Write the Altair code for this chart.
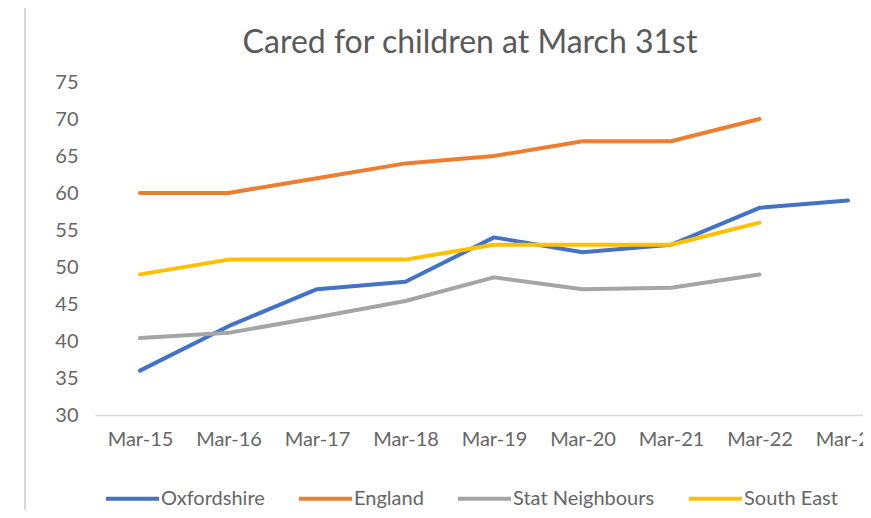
import altair as alt
import pandas as pd

months = ["Mar-15", "Mar-16", "Mar-17", "Mar-18", "Mar-19", "Mar-20", "Mar-21", "Mar-22", "Mar-23"]
series_names = ["Oxfordshire", "England", "Stat Neighbours", "South East"]
oxfordshire = [36, 42, 47, 48, 54, 52, 53, 58, 59]
england = [60, 60, 62, 64, 65, 67, 67, 70, None]
stat_neighbours = [40.4, 41.1, 43.2, 45.4, 48.6, 47.0, 47.2, 49.0, None]
south_east = [49, 51, 51, 51, 53, 53, 53, 56, None]
colors = ["#4472C4", "#ED7D31", "#A5A5A5", "#FFC000"]
y_ticks = [30, 35, 40, 45, 50, 55, 60, 65, 70, 75]

rows = []
for name, vals in zip(series_names, [oxfordshire, england, stat_neighbours, south_east]):
    for i, (m, v) in enumerate(zip(months, vals)):
        if v is not None:
            rows.append({"Month": m, "Series": name, "Value": v, "idx": i})
df = pd.DataFrame(rows)

FONT = "Lato"
W, H = 768, 333

lines = alt.Chart(df).mark_line(strokeWidth=4, strokeCap="round", strokeJoin="round").encode(
    x=alt.X("Month:N", sort=months, title=None,
            scale=alt.Scale(type="point", domain=months, padding=0.339, align=0.75),
            axis=alt.Axis(labelAngle=0, domain=False, ticks=False, labelPadding=14,
                          labelFont=FONT, labelFontSize=20, labelColor="#666666", grid=False)),
    y=alt.Y("Value:Q", title=None,
            scale=alt.Scale(domain=[30, 75], nice=False, zero=False),
            axis=alt.Axis(values=y_ticks, domain=False, ticks=False, labelPadding=17,
                          labelFont=FONT, labelFontSize=20, labelColor="#666666",
                          grid=True, gridWidth=1.5,
                          gridColor={"condition": {"test": "datum.value === 30", "value": "#d9d9d9"},
                                     "value": "transparent"})),
    color=alt.Color("Series:N", sort=series_names,
                    scale=alt.Scale(domain=series_names, range=colors),
                    legend=alt.Legend(title=None, orient="none", direction="horizontal",
                                      legendX=9, legendY=388, symbolType="stroke",
                                      symbolSize=2809, symbolStrokeWidth=4,
                                      labelFont=FONT, labelFontSize=20, labelColor="#666666",
                                      labelOffset=0, columnPadding=26, padding=0)),
    order=alt.Order("idx:Q"),
)

border = alt.Chart(pd.DataFrame({"b": [0]})).mark_rule(color="#d9d9d9", strokeWidth=2).encode(
    x=alt.value(-70), y=alt.value(-75), y2=alt.value(H + 95)
)

chart = alt.layer(border, lines).properties(
    width=W, height=H,
    background="white",
    title=alt.TitleParams("Cared for children at March 31st", font=FONT, fontSize=32,
                          fontWeight="normal", color="#595959", anchor="middle",
                          frame="group", dx=-9, dy=82, offset=28),
    autosize=alt.AutoSizeParams(type="none"),
    padding={"left": 87, "top": 74, "right": 0, "bottom": 95},
).configure_view(stroke=None)

chart.save("out.html", embed_options={"renderer": "svg", "actions": False})
